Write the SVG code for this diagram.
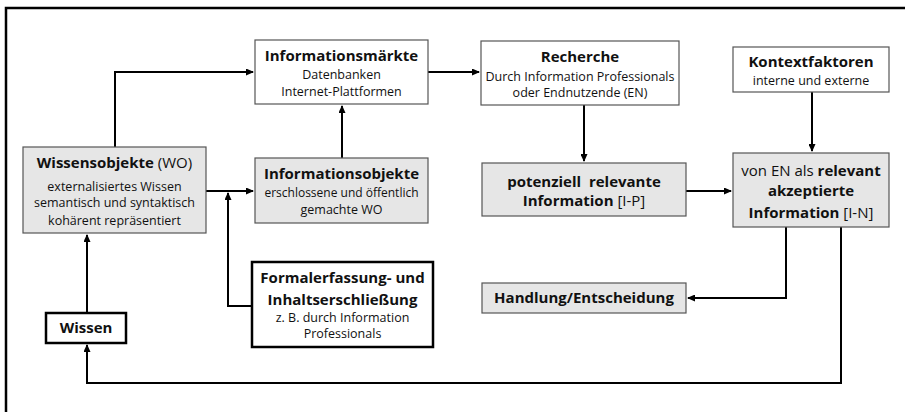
<svg xmlns="http://www.w3.org/2000/svg" width="905" height="412" viewBox="0 0 905 412">
  <defs>
    <marker id="arrow" markerUnits="userSpaceOnUse" markerWidth="8" markerHeight="7" refX="7" refY="3.5" orient="auto">
      <path d="M0,0 L8,3.5 L0,7 z" fill="#000"/>
    </marker>
  </defs>
  <style>
    text { font-family: "Open Sans", "Noto Sans", sans-serif; fill: #111; text-anchor: middle; }
    .t { font-weight: bold; font-size: 15px; }
    .s { font-size: 12.5px; }
    .b { font-weight: bold; }
    .n { font-weight: normal; }
    .box { fill: #fff; stroke: #555; stroke-width: 1.2; }
    .grey { fill: #e6e6e6; stroke: #555; stroke-width: 1.2; }
    .thick { fill: #fff; stroke: #000; stroke-width: 2.5; }
    .con { fill: none; stroke: #000; stroke-width: 2; }
    .frame { fill: none; stroke: #000; stroke-width: 2.5; }
  </style>

  <rect width="905" height="412" fill="#fff"/>
  <!-- outer frame (top and left edges) -->
  <path class="frame" d="M6,412 V8 H905"/>

  <g id="connectors">
    <path class="con" d="M115,147 V72 H253" marker-end="url(#arrow)"/>
    <path class="con" d="M206,191 H253" marker-end="url(#arrow)"/>
    <path class="con" d="M252,306 H228 V193" marker-end="url(#arrow)"/>
    <path class="con" d="M342,158 V106" marker-end="url(#arrow)"/>
    <path class="con" d="M428,72 H479" marker-end="url(#arrow)"/>
    <path class="con" d="M584,105 V161" marker-end="url(#arrow)"/>
    <path class="con" d="M812,92 V151" marker-end="url(#arrow)"/>
    <path class="con" d="M686,191 H731" marker-end="url(#arrow)"/>
    <path class="con" d="M786,227 V298 H688" marker-end="url(#arrow)"/>
    <path class="con" d="M841,227 V383 H87 V345" marker-end="url(#arrow)"/>
    <path class="con" d="M87,313 V235" marker-end="url(#arrow)"/>
  </g>

  <g id="informationsmaerkte">
    <rect class="box" x="255" y="40" width="173" height="64"/>
    <text class="t" x="341.5" y="61">Informationsmärkte</text>
    <text class="s" x="341.5" y="79">Datenbanken</text>
    <text class="s" x="341.5" y="96">Internet-Plattformen</text>
  </g>

  <g id="recherche">
    <rect class="box" x="481" y="41" width="198" height="64"/>
    <text class="t" x="580" y="62">Recherche</text>
    <text class="s" x="580" y="81">Durch Information Professionals</text>
    <text class="s" x="580" y="97">oder Endnutzende (EN)</text>
  </g>

  <g id="kontextfaktoren">
    <rect class="box" x="733" y="47" width="156" height="45"/>
    <text class="t" x="811" y="67">Kontextfaktoren</text>
    <text class="s" x="811" y="85">interne und externe</text>
  </g>

  <g id="wissensobjekte">
    <rect class="grey" x="23" y="147" width="183" height="86"/>
    <text class="t" x="114.5" y="168">Wissensobjekte <tspan class="n">(WO)</tspan></text>
    <text class="s" x="114.5" y="191">externalisiertes Wissen</text>
    <text class="s" x="114.5" y="207">semantisch und syntaktisch</text>
    <text class="s" x="114.5" y="225">kohärent repräsentiert</text>
  </g>

  <g id="informationsobjekte">
    <rect class="grey" x="255" y="158" width="173" height="65"/>
    <text class="t" x="341.5" y="179">Informationsobjekte</text>
    <text class="s" x="341.5" y="197" style="font-size:12px">erschlossene und öffentlich</text>
    <text class="s" x="341.5" y="214">gemachte WO</text>
  </g>

  <g id="potenziell-relevant">
    <rect class="grey" x="482" y="163" width="204" height="53"/>
    <text class="t" x="584" y="187" xml:space="preserve">potenziell  relevante</text>
    <text class="t" x="584" y="206">Information <tspan class="n">[I-P]</tspan></text>
  </g>

  <g id="relevant-akzeptiert">
    <rect class="grey" x="733" y="153" width="156" height="74"/>
    <text class="t" x="811" y="176"><tspan class="n">von EN als </tspan>relevant</text>
    <text class="t" x="811" y="196">akzeptierte</text>
    <text class="t" x="811" y="218">Information <tspan class="n">[I-N]</tspan></text>
  </g>

  <g id="formalerfassung">
    <rect class="thick" x="252" y="262" width="181" height="85"/>
    <text class="t" x="342.5" y="283">Formalerfassung- und</text>
    <text class="t" x="342.5" y="305">Inhaltserschließung</text>
    <text class="s" x="342.5" y="322">z. B. durch Information</text>
    <text class="s" x="342.5" y="338">Professionals</text>
  </g>

  <g id="wissen">
    <rect class="thick" x="46" y="313" width="80" height="30"/>
    <text class="t" x="86" y="333">Wissen</text>
  </g>

  <g id="handlung">
    <rect class="grey" x="482" y="283" width="204" height="30"/>
    <text class="t" x="584" y="303">Handlung/Entscheidung</text>
  </g>
</svg>
